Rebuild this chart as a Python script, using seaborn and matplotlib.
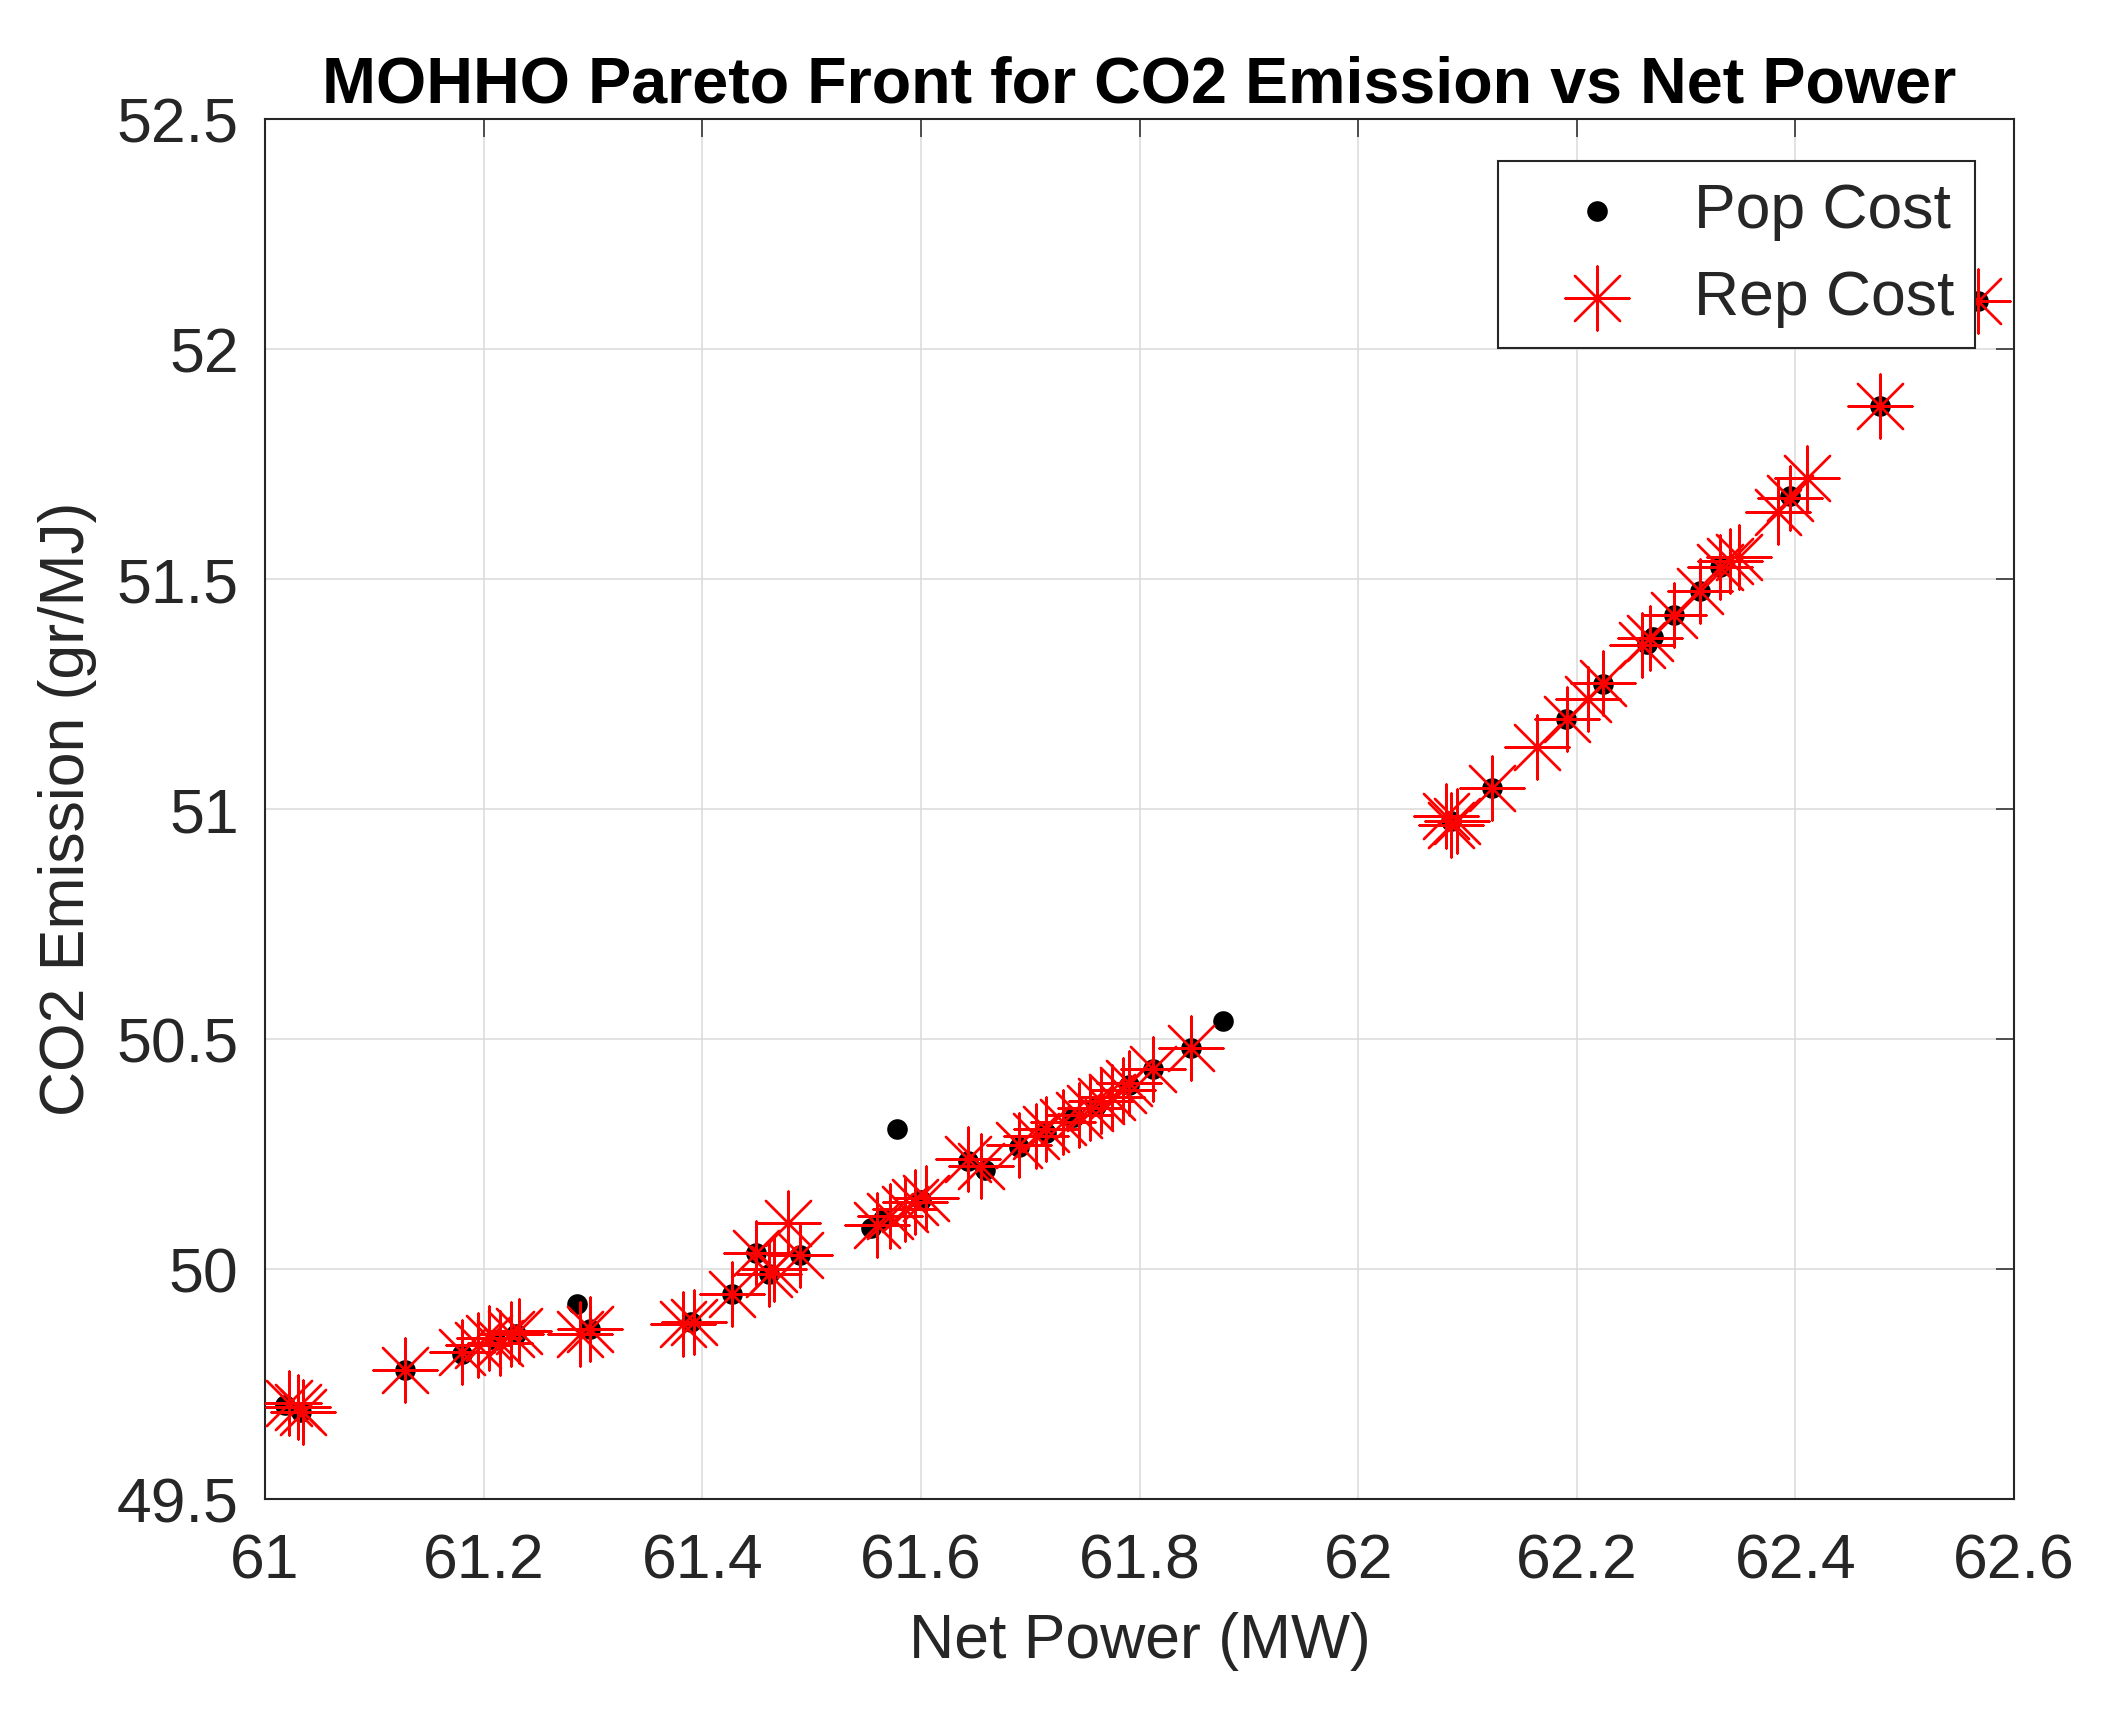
import matplotlib.pyplot as plt
import pandas as pd
import seaborn as sns

# Pop Cost (black dots)
pop_power = [61.018, 61.033, 61.128, 61.180, 61.210, 61.230, 61.285, 61.297, 61.390, 61.427,
             61.449, 61.461, 61.489, 61.554, 61.565, 61.578, 61.600, 61.643, 61.659, 61.690,
             61.714, 61.740, 61.760, 61.790, 61.812, 61.847, 61.876, 62.085, 62.122, 62.190,
             62.224, 62.264, 62.270, 62.289, 62.313, 62.331, 62.395, 62.477, 62.567]
pop_co2 = [49.705, 49.690, 49.780, 49.815, 49.845, 49.860, 49.925, 49.870, 49.885, 49.945,
           50.035, 49.990, 50.030, 50.090, 50.110, 50.305, 50.150, 50.235, 50.215, 50.265,
           50.295, 50.330, 50.355, 50.400, 50.435, 50.480, 50.540, 50.975, 51.046, 51.196,
           51.272, 51.360, 51.375, 51.422, 51.474, 51.526, 51.680, 51.877, 52.105]

# Rep Cost (red asterisks)
rep_power = [61.022, 61.030, 61.035, 61.128, 61.180, 61.195, 61.205, 61.215, 61.225, 61.232,
             61.288, 61.297, 61.382, 61.392, 61.427, 61.449, 61.461, 61.466, 61.478, 61.489,
             61.560, 61.572, 61.585, 61.595, 61.605, 61.643, 61.655, 61.690, 61.705, 61.714,
             61.730, 61.745, 61.755, 61.765, 61.775, 61.785, 61.790, 61.812, 61.847, 62.080,
             62.085, 62.090, 62.122, 62.164, 62.191, 62.210, 62.224, 62.260, 62.267, 62.289,
             62.313, 62.331, 62.340, 62.348, 62.384, 62.395, 62.411, 62.477, 62.567]
rep_co2 = [49.710, 49.700, 49.690, 49.780, 49.820, 49.835, 49.850, 49.840, 49.860, 49.865,
           49.860, 49.870, 49.880, 49.885, 49.945, 50.035, 49.990, 50.000, 50.100, 50.030,
           50.095, 50.115, 50.130, 50.145, 50.155, 50.240, 50.225, 50.270, 50.290, 50.305,
           50.320, 50.335, 50.350, 50.365, 50.375, 50.390, 50.405, 50.435, 50.480, 50.985,
           50.965, 50.975, 51.046, 51.136, 51.196, 51.239, 51.274, 51.356, 51.372, 51.422,
           51.474, 51.526, 51.539, 51.548, 51.647, 51.677, 51.719, 51.877, 52.105]

x_ticks = [61.0, 61.2, 61.4, 61.6, 61.8, 62.0, 62.2, 62.4, 62.6]
x_tick_labels = ['61', '61.2', '61.4', '61.6', '61.8', '62', '62.2', '62.4', '62.6']
y_ticks = [49.5, 50.0, 50.5, 51.0, 51.5, 52.0, 52.5]
y_tick_labels = ['49.5', '50', '50.5', '51', '51.5', '52', '52.5']

sns.set_theme(style='whitegrid')
plt.rcParams['font.family'] = ['Liberation Sans', 'DejaVu Sans']

pop = pd.DataFrame({'power': pop_power, 'co2': pop_co2})
rep = pd.DataFrame({'power': rep_power, 'co2': rep_co2})

dark = '#262626'

fig = plt.figure(figsize=(21.07, 17.17), dpi=100)
ax = fig.add_axes([0.1258, 0.1269, 0.8301, 0.8037])

sns.scatterplot(data=pop, x='power', y='co2', ax=ax, color='black', marker='o',
                s=220, linewidth=0, label='Pop Cost', zorder=3)
sns.scatterplot(data=rep, x='power', y='co2', ax=ax, color='red', marker=(8, 2, 0),
                s=46 ** 2, linewidth=1.7, label='Rep Cost', zorder=4)

ax.set_xlim(61.0, 62.6)
ax.set_ylim(49.5, 52.5)
ax.set_xticks(x_ticks, labels=x_tick_labels)
ax.set_yticks(y_ticks, labels=y_tick_labels)

ax.grid(True, color='#dadada', linewidth=1.1)
ax.set_axisbelow(True)
for s in ax.spines.values():
    s.set_visible(True)
    s.set_color(dark)
    s.set_linewidth(1.5)

ax.tick_params(axis='both', direction='in', length=13, width=1.1, color=dark,
               labelcolor=dark, labelsize=45, top=True, right=True)
ax.tick_params(axis='x', pad=24)
ax.tick_params(axis='y', pad=19)

ax.set_xlabel('Net Power (MW)', fontsize=45, labelpad=15, color=dark)
ax.set_ylabel('CO2 Emission (gr/MJ)', fontsize=45, labelpad=14, color=dark)
ax.set_title('MOHHO Pareto Front for CO2 Emission vs Net Power', fontsize=46.5,
             fontweight='bold', pad=12, color='black')

leg = ax.legend(loc='upper right', bbox_to_anchor=(1975 / 2107, 1 - 161 / 1717),
                bbox_transform=fig.transFigure, borderaxespad=0, fontsize=45,
                frameon=True, fancybox=False, framealpha=1, edgecolor=dark,
                borderpad=0.33, handlelength=2.5, handletextpad=0.3, labelspacing=0.45)
leg.get_frame().set_linewidth(1.5)

fig.savefig('out.png', dpi=100)
